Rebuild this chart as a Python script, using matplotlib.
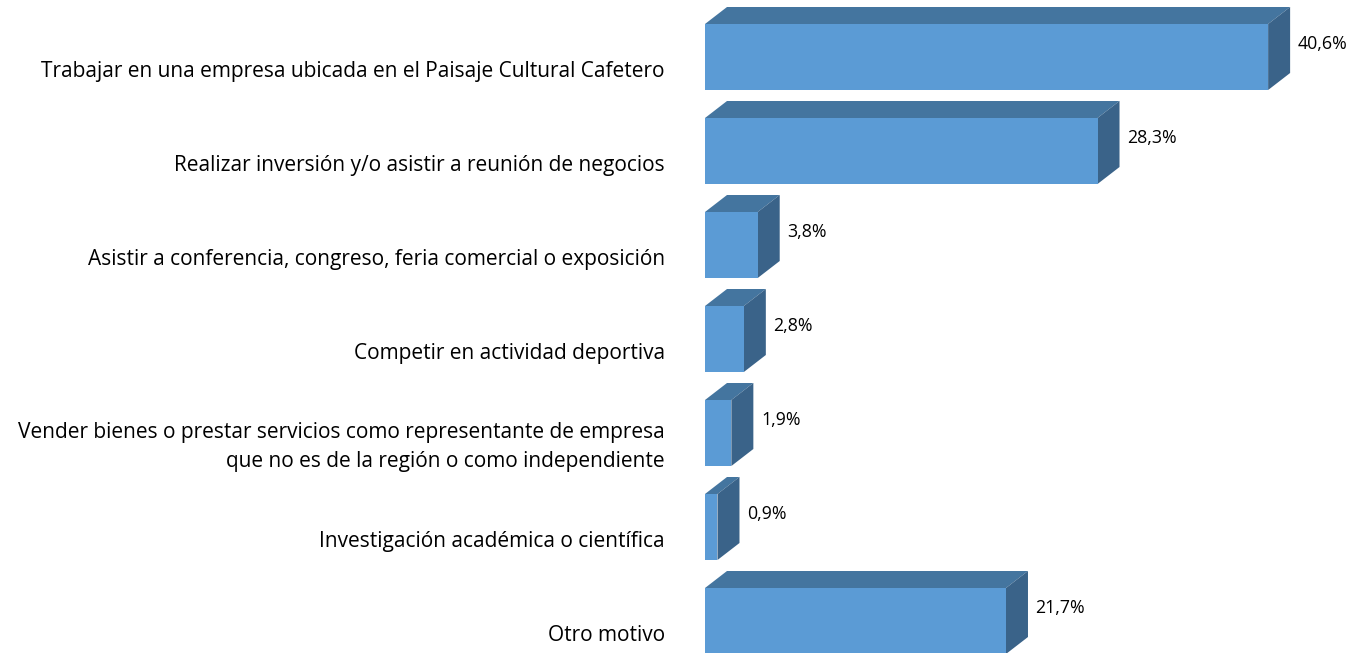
import matplotlib.pyplot as plt
from matplotlib.patches import Polygon

# Motivos de viaje (porcentaje)
categorias = [
    "Trabajar en una empresa ubicada en el Paisaje Cultural Cafetero",
    "Realizar inversión y/o asistir a reunión de negocios",
    "Asistir a conferencia, congreso, feria comercial o exposición",
    "Competir en actividad deportiva",
    "Vender bienes o prestar servicios como representante de empresa\nque no es de la región o como independiente",
    "Investigación académica o científica",
    "Otro motivo",
]
valores = [40.6, 28.3, 3.8, 2.8, 1.9, 0.9, 21.7]
etiquetas = ["40,6%", "28,3%", "3,8%", "2,8%", "1,9%", "0,9%", "21,7%"]

c_frente = "#5B9BD5"
c_arriba = "#44759F"
c_lado = "#3A6389"

plt.rcParams['font.family'] = ['Open Sans', 'DejaVu Sans']

fig = plt.figure(figsize=(13.57, 6.53), dpi=100)
ax = fig.add_axes([0, 0, 1, 1])
# 1 % = 13.87 px, base de las barras en x=705 px, filas cada 94 px
ax.set_xlim(-705 / 13.87, (1357 - 705) / 13.87)
ax.set_ylim((653 - 57) / 94, -57 / 94)
ax.axis('off')

h = 66 / 94          # alto de la barra (filas)
dx = 22 / 13.87      # profundidad en x
dy = 17 / 94         # profundidad en y

for i, v in enumerate(valores):
    y0 = i - h / 2
    y1 = i + h / 2
    ax.add_patch(Polygon([(0, y0), (v, y0), (v + dx, y0 - dy), (dx, y0 - dy)],
                         closed=True, facecolor=c_arriba, edgecolor='none'))
    ax.add_patch(Polygon([(v, y0), (v + dx, y0 - dy), (v + dx, y1 - dy), (v, y1)],
                         closed=True, facecolor=c_lado, edgecolor='none'))
    ax.add_patch(Polygon([(0, y0), (v, y0), (v, y1), (0, y1)],
                         closed=True, facecolor=c_frente, edgecolor='none'))
    ax.text(v + dx + 0.55, y0 + 0.21, etiquetas[i], ha='left', va='center',
            fontsize=12.8, color='black')
    ax.text(-40 / 13.87, i + 0.15, categorias[i], ha='right', va='center',
            fontsize=15, color='black', linespacing=1.5, multialignment='right')

fig.savefig("out.png", dpi=100)
